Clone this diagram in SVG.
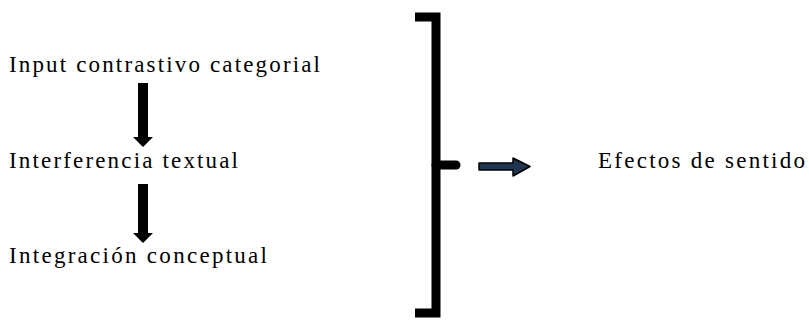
<svg xmlns="http://www.w3.org/2000/svg" width="809" height="322" viewBox="0 0 809 322">
<style>
.t{font-family:'Liberation Serif','DejaVu Serif',serif;font-size:23px;fill:#000}
.br{fill:none;stroke:#000;stroke-width:9}
.down{fill:#000}
.right{fill:#1f3550;stroke:#000;stroke-width:1.5;stroke-linejoin:round}
</style>
<rect width="809" height="322" fill="#fff"/>
<g id="n1"><text class="t" font-family="Liberation Serif, DejaVu Serif, serif" x="9" y="72" textLength="311" lengthAdjust="spacing">Input contrastivo categorial</text></g>
<g id="n2"><text class="t" font-family="Liberation Serif, DejaVu Serif, serif" x="9" y="168" textLength="229" lengthAdjust="spacing">Interferencia textual</text></g>
<g id="n3"><text class="t" font-family="Liberation Serif, DejaVu Serif, serif" x="9" y="263" textLength="258" lengthAdjust="spacing">Integración conceptual</text></g>
<g id="n4"><text class="t" font-family="Liberation Serif, DejaVu Serif, serif" x="598" y="168" textLength="207" lengthAdjust="spacing">Efectos de sentido</text></g>
<g id="bracket">
<path class="br" d="M415,17 H436 V313 H415"/>
<path class="br" d="M436,165 H456" stroke-linecap="round"/>
</g>
<g id="connectors">
<polygon class="down" points="138,83 148,83 148,137 153,137 143,147 133,137 138,137"/>
<polygon class="down" points="138,184 148,184 148,233 153,233 143,243 133,233 138,233"/>
<polygon class="right" points="479,163 513,163 513,158 530,166.5 513,176 513,170 479,170"/>
</g>
</svg>
